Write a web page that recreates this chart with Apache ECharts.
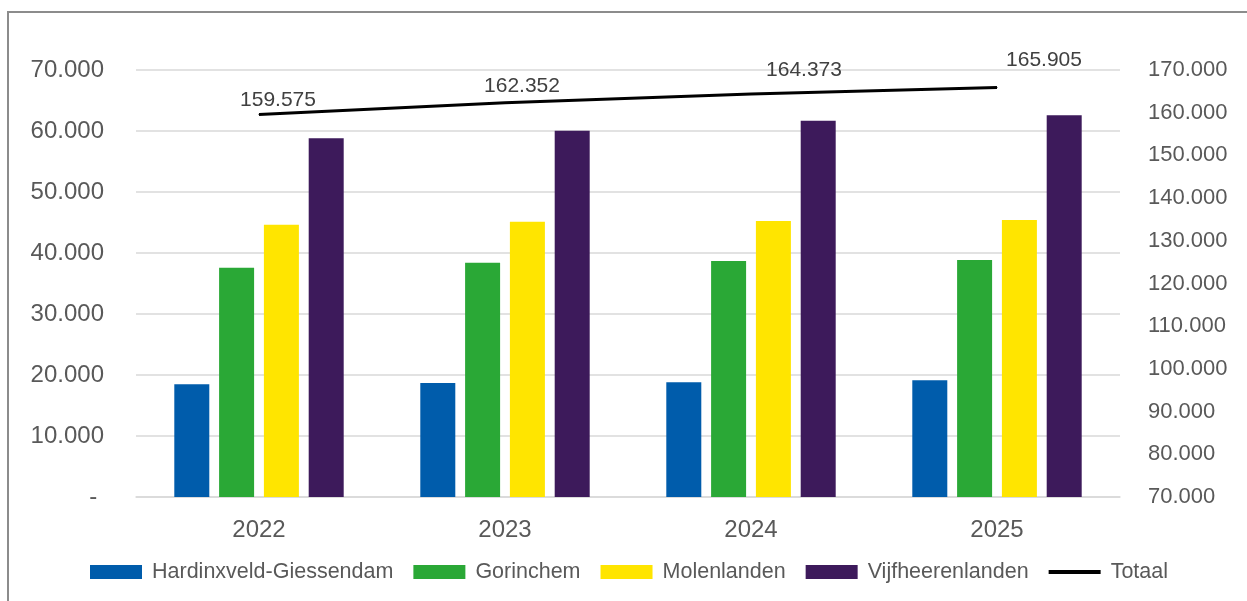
<!DOCTYPE html>
<html>
<head>
<meta charset="utf-8">
<script src="https://cdn.jsdelivr.net/npm/echarts@6/dist/echarts.min.js"></script>
<style>
  html, body { margin: 0; padding: 0; background: #fff; }
  #chart { width: 1247px; height: 601px; }
</style>
</head>
<body>
<div id="chart"></div>
<script>
// jaren op de x-as
const categories = ['2022', '2023', '2024', '2025'];

// inwoners per gemeente (linker as)
const hardinxveld = [18480, 18700, 18800, 19130];
const gorinchem = [37600, 38420, 38690, 38850];
const molenlanden = [44620, 45110, 45230, 45390];
const vijfheerenlanden = [58800, 60050, 61680, 62570];

// totaal (rechter as)
const totaal = [159575, 162352, 164373, 165905];

const seriesNames = ['Hardinxveld-Giessendam', 'Gorinchem', 'Molenlanden', 'Vijfheerenlanden', 'Totaal'];
const barColors = ['#005CAB', '#2AA836', '#FFE500', '#3D1A5B'];

// label verschuiving voor de totaal labels (zoals handmatig geplaatst in Excel)
const labelOffsets = [[19, -3], [17, -5], [53, -13], [47, -16]];

const textColor = '#595959';
const gridColor = '#D9D9D9';
const font = "'Liberation Sans', Arial, sans-serif";

function fmt(v) {
    return String(Math.round(v)).replace(/\B(?=(\d{3})+(?!\d))/g, '.');
}

const chart = echarts.init(document.getElementById('chart'));

const barData = [hardinxveld, gorinchem, molenlanden, vijfheerenlanden];

const series = barData.map((d, i) => ({
    name: seriesNames[i],
    type: 'bar',
    barWidth: 35,
    barGap: '28%',
    itemStyle: { color: barColors[i] },
    data: d
}));

series.push({
    name: seriesNames[4],
    type: 'line',
    yAxisIndex: 1,
    symbol: 'circle',
    symbolSize: 1,
    itemStyle: { color: '#000' },
    lineStyle: { color: '#000', width: 3 },
    label: {
        show: true,
        position: 'top',
        distance: 0,
        color: '#404040',
        fontSize: 21,
        fontFamily: font,
        formatter: p => fmt(p.value)
    },
    data: totaal.map((v, i) => ({ value: v, label: { offset: labelOffsets[i] } }))
});

// legenda: rechthoeken voor de staven, een streep voor het totaal
const legendData = seriesNames.map((n, i) => ({
    name: n,
    icon: i < 4 ? 'rect' : 'path://M0,0 L52,0 L52,4 L0,4 Z'
}));

const options = {
    animation: false,
    textStyle: { fontFamily: font },
    graphic: [{
        type: 'rect',
        shape: { x: 8, y: 12, width: 1300, height: 700 },
        style: { fill: 'none', stroke: '#8C8C8C', lineWidth: 2 },
        silent: true
    }],
    grid: {
        left: 136,
        right: 127,
        top: 70,
        bottom: 104
    },
    legend: {
        left: 85,
        top: 556,
        itemWidth: 52,
        itemHeight: 14,
        itemGap: 20,
        textStyle: {
            color: textColor,
            fontSize: 21.5,
            fontFamily: font,
            padding: [0, 0, 0, 5]
        },
        data: legendData
    },
    xAxis: {
        type: 'category',
        data: categories,
        axisTick: { show: false },
        axisLine: { lineStyle: { color: gridColor, width: 1.5 } },
        axisLabel: { color: textColor, fontSize: 24, margin: 21 }
    },
    yAxis: [
        {
            type: 'value',
            min: 0,
            max: 70000,
            interval: 10000,
            axisLine: { show: false },
            axisTick: { show: false },
            splitLine: { lineStyle: { color: gridColor, width: 1.5 } },
            axisLabel: {
                color: textColor,
                fontSize: 24,
                margin: 32,
                formatter: v => v === 0 ? '- ' : fmt(v)
            }
        },
        {
            type: 'value',
            min: 70000,
            max: 170000,
            interval: 10000,
            axisLine: { show: false },
            axisTick: { show: false },
            splitLine: { show: false },
            axisLabel: {
                color: textColor,
                fontSize: 22,
                margin: 28,
                formatter: v => fmt(v)
            }
        }
    ],
    series: series
};

chart.setOption(options);
</script>
</body>
</html>
